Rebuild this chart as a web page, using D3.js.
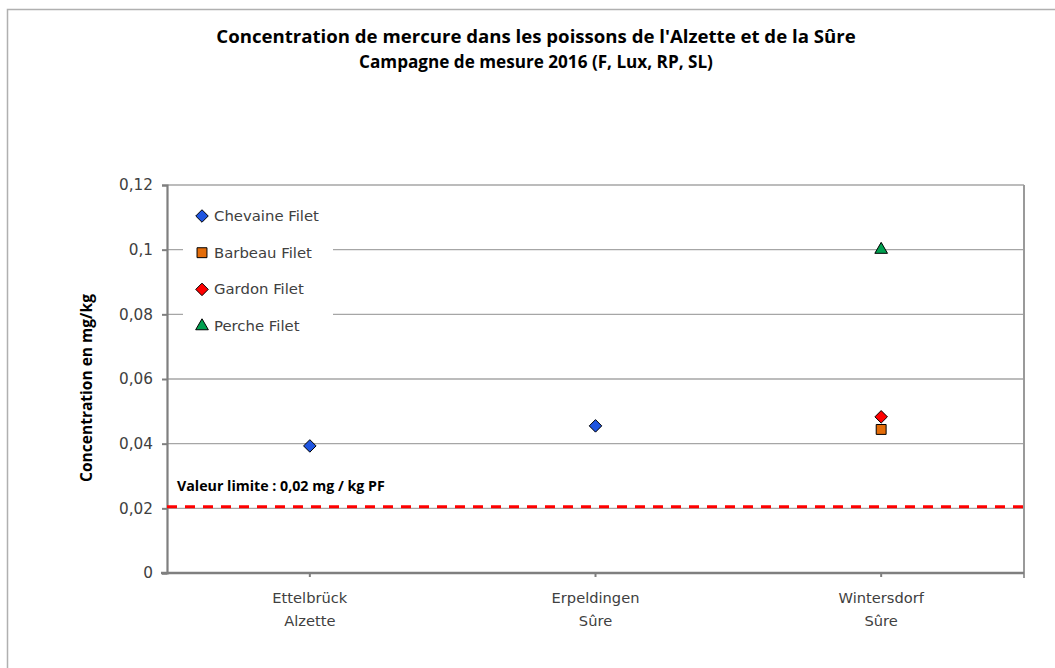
<!DOCTYPE html>
<html><head><meta charset="utf-8">
<script src="https://cdn.jsdelivr.net/npm/d3@7"></script>
<style>body{margin:0;background:#fff}svg{display:block}</style>
</head><body><svg id="c" width="1055" height="668"></svg>
<script>
const titleLines = ["Concentration de mercure dans les poissons de l'Alzette et de la Sûre", "Campagne de mesure 2016 (F, Lux, RP, SL)"];
const yLabel = "Concentration en mg/kg";
const categories = ["Ettelbrück\nAlzette", "Erpeldingen\nSûre", "Wintersdorf\nSûre"];
const yTicks = [0, 0.02, 0.04, 0.06, 0.08, 0.1, 0.12];
const yTickLabels = ["0", "0,02", "0,04", "0,06", "0,08", "0,1", "0,12"];
const seriesNames = ["Chevaine Filet", "Barbeau Filet", "Gardon Filet", "Perche Filet"];
const chevaine = [0.0393, 0.0455, null];
const barbeau = [null, null, 0.0444];
const gardon = [null, null, 0.0483];
const perche = [null, null, 0.100];
const limitValue = 0.02;
const limitLabel = "Valeur limite : 0,02 mg / kg PF";

const series = [
  {name: seriesNames[0], values: chevaine, shape: "diamond", color: "#1f55e0"},
  {name: seriesNames[1], values: barbeau, shape: "square", color: "#e36c09"},
  {name: seriesNames[2], values: gardon, shape: "diamond", color: "#ff0000"},
  {name: seriesNames[3], values: perche, shape: "triangle", color: "#00a050"}
];

const svg = d3.select("#c");
const font = "'Open Sans', sans-serif";
const font2 = "'DejaVu Sans', sans-serif";
const L = 167, R = 1024, T = 185, B = 573;
const x = d3.scaleBand().domain(categories).range([L, R]);
const y = d3.scaleLinear().domain([0, 0.12]).range([B, T]);

function fit(el, target) {
  const fs = +el.attr("font-size");
  const w = el.node().getComputedTextLength();
  el.attr("font-size", fs * target / w);
}
function sizeFor(text, fam, target, weight) {
  const t = svg.append("text").attr("font-family", fam).attr("font-size", 20).attr("font-weight", weight || "normal").text(text);
  const w = t.node().getComputedTextLength();
  t.remove();
  return 20 * target / w;
}
const fsTick = sizeFor("0,12", font2, 34);
const fsLeg = sizeFor("Chevaine Filet", font2, 105);
const fsCat = sizeFor("Ettelbrück", font2, 75);

// outer border
svg.append("rect").attr("x", 7.5).attr("y", 9.5).attr("width", 1060).attr("height", 670)
  .attr("fill", "none").attr("stroke", "#b0b0b0").attr("stroke-width", 1.5);

// title
const tw = [640, 354];
titleLines.forEach((t, i) => {
  const el = svg.append("text").attr("x", 536).attr("y", 43 + i * 25).attr("text-anchor", "middle")
    .attr("font-family", font).attr("font-weight", "bold").attr("font-size", 15).attr("fill", "#000").text(t);
  fit(el, tw[i]);
});

// gridlines
const g = svg.append("g");
g.selectAll("line.grid").data(yTicks.filter(d => d > 0)).join("line")
  .attr("x1", L).attr("x2", R).attr("y1", d => y(d)).attr("y2", d => y(d))
  .attr("stroke", "#a6a6a6").attr("stroke-width", 1.3);
// right border
g.append("line").attr("x1", R).attr("x2", R).attr("y1", T).attr("y2", B + 5).attr("stroke", "#9a9a9a").attr("stroke-width", 2);

// y axis
const yAxis = d3.axisLeft(y).tickValues(yTicks).tickFormat((d, i) => yTickLabels[i]).tickSize(5).tickPadding(9);
const ya = svg.append("g").attr("transform", `translate(${L},0)`).call(yAxis);
ya.select(".domain").attr("stroke", "#7f7f7f").attr("stroke-width", 2.2);
ya.selectAll(".tick line").attr("stroke", "#7f7f7f").attr("stroke-width", 2);
ya.selectAll(".tick text").attr("font-family", font2).attr("font-size", fsTick).attr("fill", "#404040");

// x axis
const xa = svg.append("g").attr("transform", `translate(0,${B})`);
xa.append("line").attr("x1", L - 6).attr("x2", R).attr("y1", 0).attr("y2", 0).attr("stroke", "#7f7f7f").attr("stroke-width", 2.5);
xa.selectAll("line.t").data(categories).join("line")
  .attr("x1", d => x(d) + x.bandwidth() / 2).attr("x2", d => x(d) + x.bandwidth() / 2)
  .attr("y1", 0).attr("y2", 4).attr("stroke", "#7f7f7f").attr("stroke-width", 2);
xa.selectAll("text").data(categories).join("text")
  .attr("x", d => x(d) + x.bandwidth() / 2).attr("text-anchor", "middle")
  .attr("font-family", font2).attr("font-size", fsCat).attr("fill", "#404040")
  .each(function(d) {
    d.split("\n").forEach((s, i) => d3.select(this).append("tspan")
      .attr("x", x(d) + x.bandwidth() / 2).attr("y", 30 + i * 23).text(s));
  });

// y label
const yl = svg.append("text").attr("transform", `translate(92,388) rotate(-90)`).attr("text-anchor", "middle")
  .attr("font-family", font).attr("font-weight", "bold").attr("font-size", 14).attr("fill", "#000").text(yLabel);
fit(yl, 188);

// limit line
svg.append("line").attr("x1", L).attr("x2", R).attr("y1", y(limitValue) - 1.5).attr("y2", y(limitValue) - 1.5)
  .attr("stroke", "#ff0000").attr("stroke-width", 3).attr("stroke-dasharray", "10,8");
const ll = svg.append("text").attr("x", 177).attr("y", 491).attr("font-family", font).attr("font-weight", "bold")
  .attr("font-size", 13).attr("fill", "#000").text(limitLabel);
fit(ll, 208);

// markers
function sym(shape) {
  if (shape === "diamond") return d3.symbol().type(d3.symbolDiamond2).size(100)();
  if (shape === "square") return d3.symbol().type(d3.symbolSquare2).size(125)();
  return d3.symbol().type(d3.symbolTriangle2).size(115)();
}

// legend
const lg = svg.append("g");
lg.append("rect").attr("x", 183).attr("y", 195).attr("width", 150).attr("height", 146).attr("fill", "#fff");
series.forEach((s, i) => {
  const cy = 216 + i * 36.7;
  lg.append("path").attr("d", sym(s.shape)).attr("transform", `translate(202,${cy})`)
    .attr("fill", s.color).attr("stroke", "#000").attr("stroke-width", 1);
  lg.append("text").attr("x", 214).attr("y", cy + 5).attr("font-family", font2).attr("font-size", fsLeg)
    .attr("fill", "#404040").text(s.name);
});

series.forEach(s => {
  svg.append("g").selectAll("path").data(categories.map((c, i) => ({c, v: s.values[i]})).filter(d => d.v != null))
    .join("path").attr("d", sym(s.shape))
    .attr("transform", d => `translate(${x(d.c) + x.bandwidth() / 2},${y(d.v)})`)
    .attr("fill", s.color).attr("stroke", "#000").attr("stroke-width", 1);
});
</script></body></html>
